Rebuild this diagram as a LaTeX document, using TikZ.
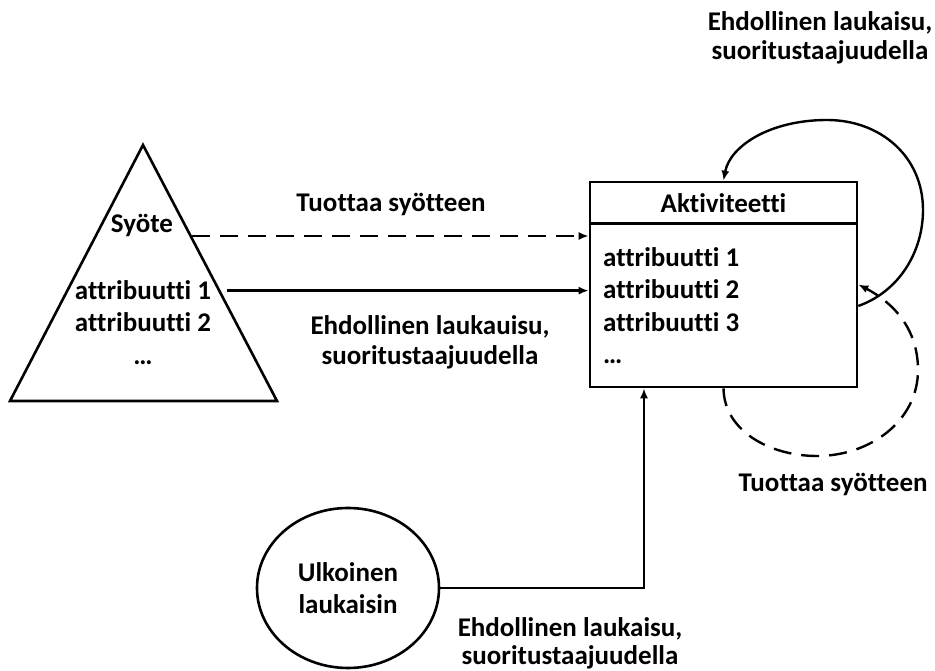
\documentclass[tikz,border=0pt]{standalone}
\usepackage{fontspec}
\setmainfont{Carlito}[Ligatures={NoCommon}]
\usetikzlibrary{arrows.meta,shapes.geometric}
\begin{document}
\begin{tikzpicture}[x=1pt,y=1pt,
  every node/.style={font=\fontsize{27}{32.5}\selectfont\bfseries, inner sep=0pt},
  txt/.style={anchor=base},
  txtw/.style={anchor=base west},
  conn/.style={line width=2.4pt, -{Latex[length=10pt,width=8pt]}},
  dsh/.style={dash pattern=on 18pt off 10pt},
  shapeline/.style={line width=2.6pt}]
\useasboundingbox (0,0) rectangle (935,671);

% Input (triangle) with its attributes
\coordinate (apex) at (143,526);
\coordinate (bl) at (10,270);
\coordinate (br) at (277,270);
\draw[shapeline, line join=miter] (apex) -- (br) -- (bl) -- cycle;
\node[txt] (syote) at (142,438) {Syöte};
\node[txt] (in1) at (143,371) {attribuutti 1};
\node[txt] (in2) at (143,339) {attribuutti 2};
\node[txt] (in3) at (143,306) {…};

% Activity box with header and attributes
\node[draw, shapeline, minimum width=267pt, minimum height=205pt] (act) at (723.5,386.5) {};
\draw[shapeline] ([yshift=-43pt]act.north west) -- ([yshift=-43pt]act.north east);
\node[txt] (acthead) at (723.5,458) {Aktiviteetti};
\node[txtw] (a1) at (603,404) {attribuutti 1};
\node[txtw] (a2) at (603,372) {attribuutti 2};
\node[txtw] (a3) at (603,339) {attribuutti 3};
\node[txtw] (a4) at (603,307) {…};

% External trigger
\node[draw, shapeline, ellipse, minimum width=182pt, minimum height=160pt, align=center] (ext) at (348,83) {Ulkoinen\\laukaisin};

% Connectors from the input
\coordinate (s0) at (192,435);
\coordinate (s1) at ([xshift=16pt]in1.east);
\draw[conn, dsh] (s0) -- (act.west |- s0);
\draw[conn] (s1) -- (act.west |- s1);

% Connector from the external trigger
\draw[conn] (ext.east) -| ([xshift=-79.5pt]act.south);

% Self loops of the activity
\coordinate (ls) at ([yshift=-21.5pt]act.east);
\draw[conn] (ls) .. controls (900,380) and (923,420) .. (923,461)
  .. controls (923,515) and (880,551) .. (827,551)
  .. controls (770,551) and (730,525) .. (act.north);
\draw[conn, dsh] (act.south) .. controls (724,240) and (770,215) .. (817,215)
  .. controls (870,215) and (918,250) .. (918,301)
  .. controls (918,345) and (890,370) .. (act.east);

% Labels
\node[txt] (lblA) at (391,459) {Tuottaa syötteen};
\node[txt] (lblB1) at (430,336) {Ehdollinen laukauisu,};
\node[txt] (lblB2) at (430,306) {suoritustaajuudella};
\node[txt] (lblC1) at (820,640) {Ehdollinen laukaisu,};
\node[txt] (lblC2) at (820,611) {suoritustaajuudella};
\node[txt] (lblD) at (833,179) {Tuottaa syötteen};
\node[txt] (lblE1) at (570,34) {Ehdollinen laukaisu,};
\node[txt] (lblE2) at (570,6) {suoritustaajuudella};
\end{tikzpicture}
\end{document}
